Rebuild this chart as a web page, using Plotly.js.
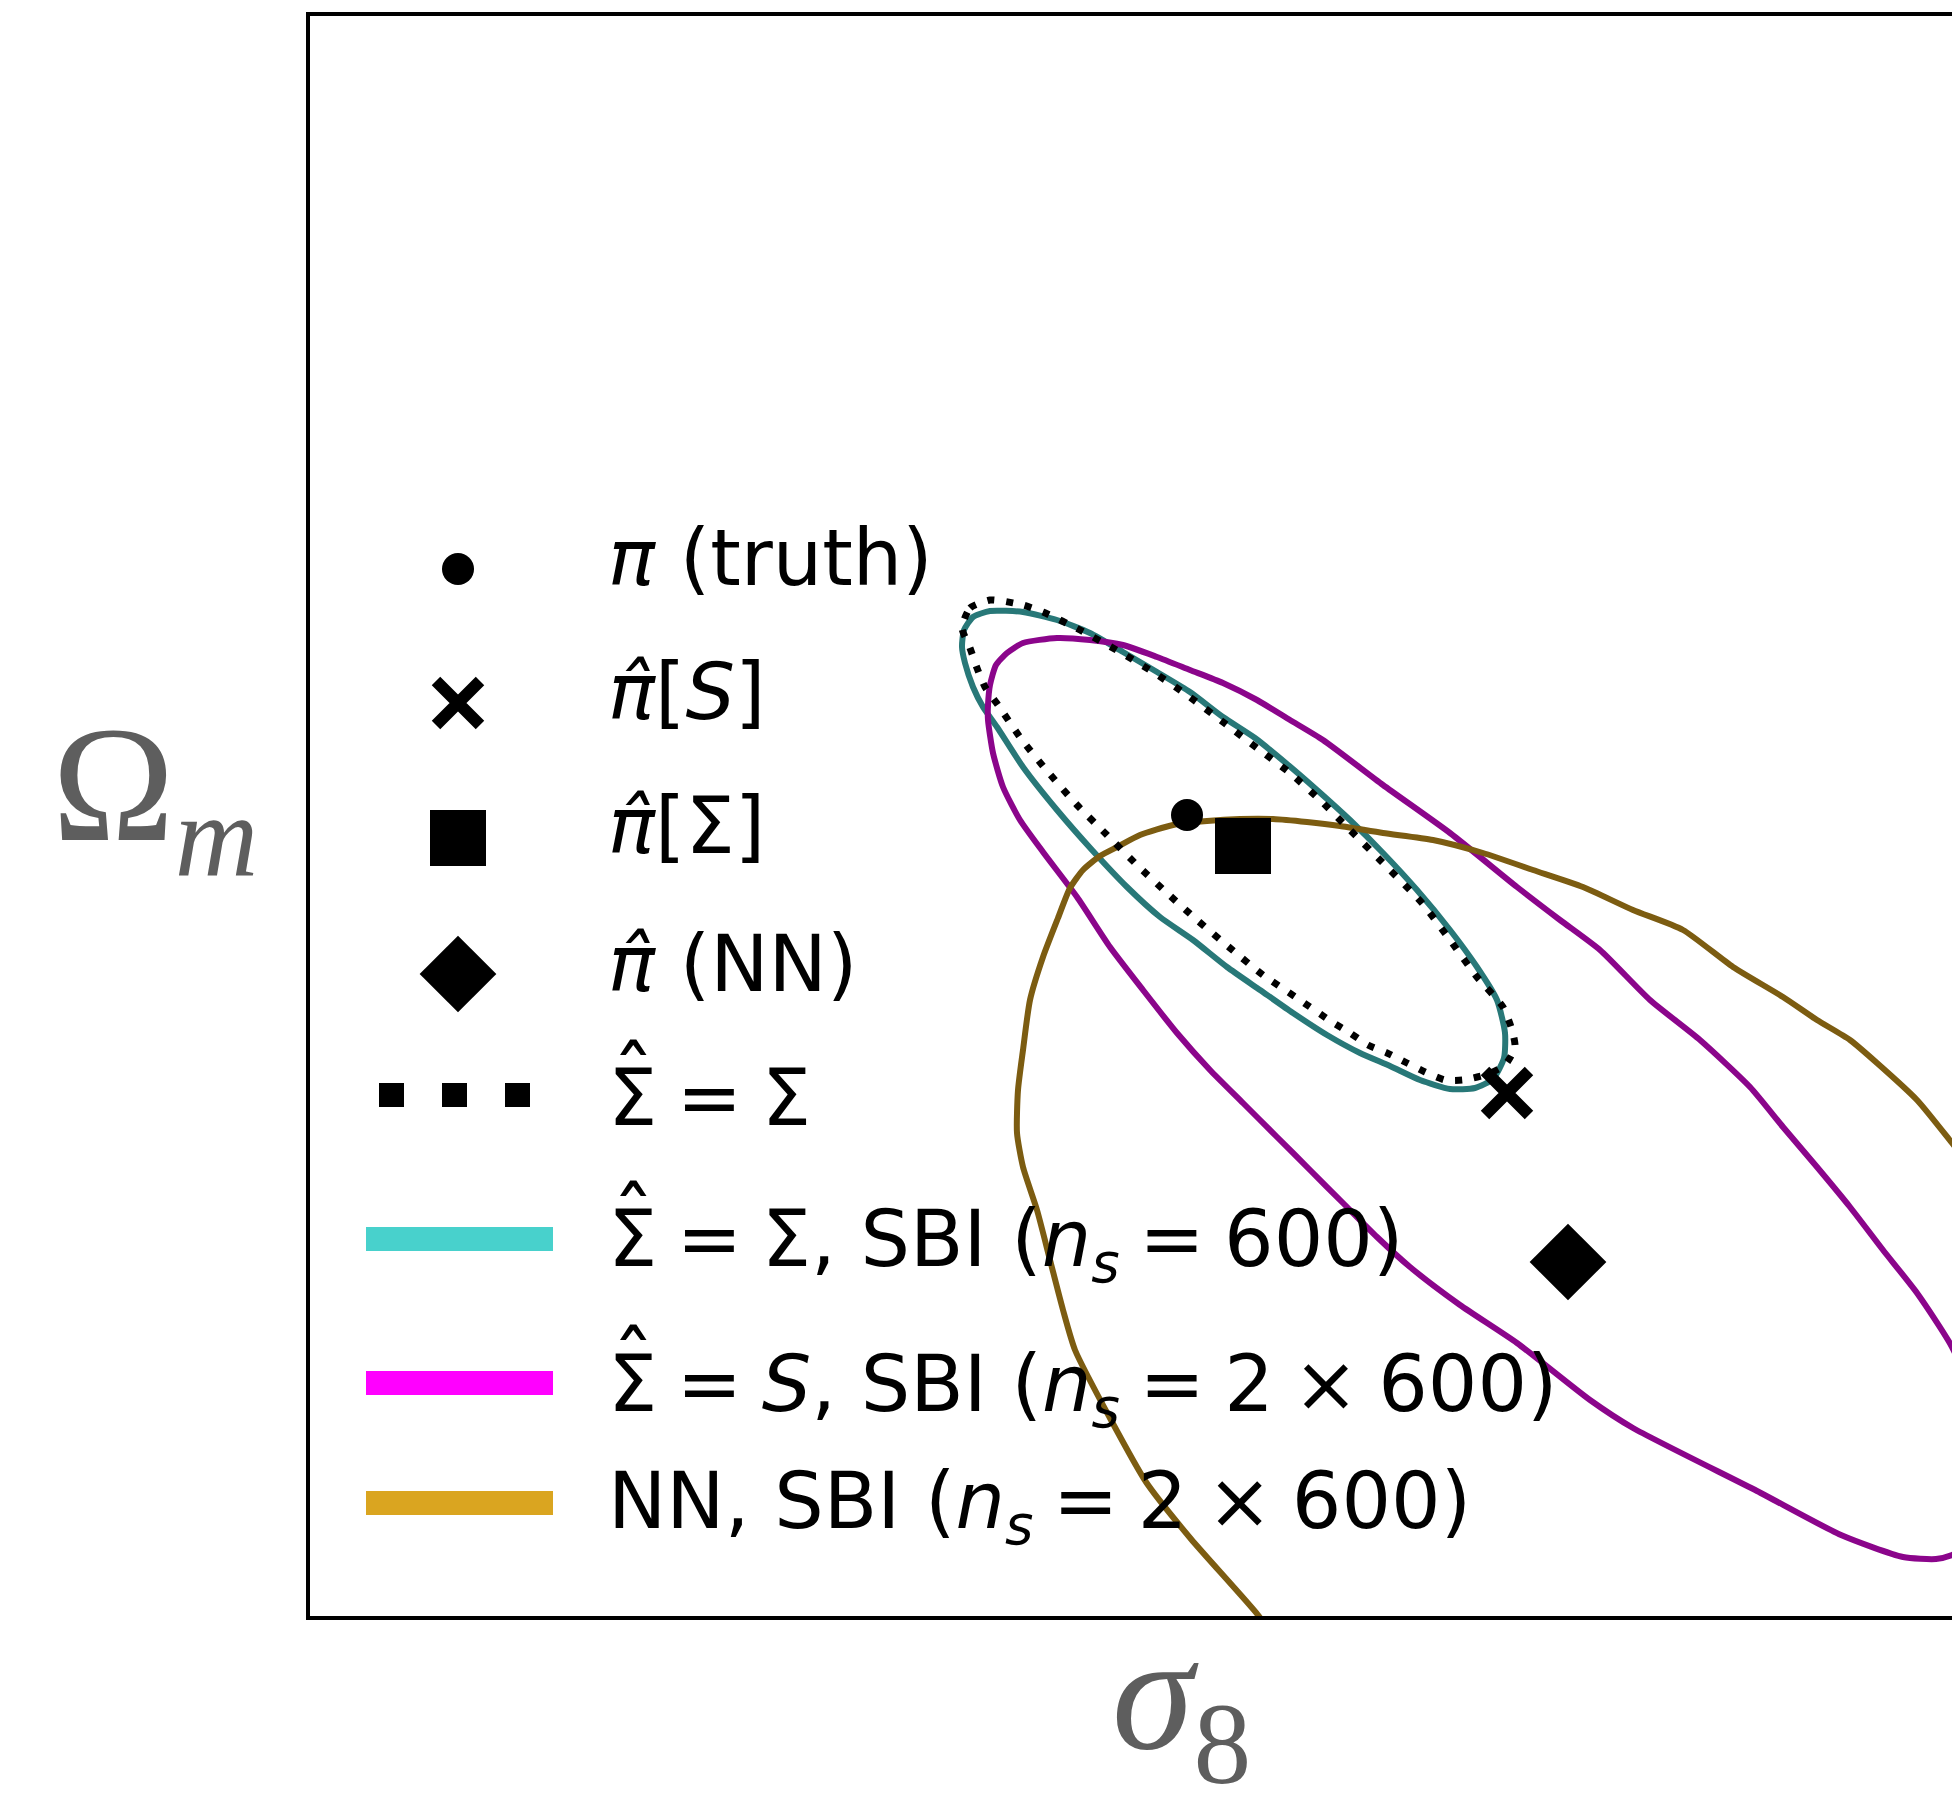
<!DOCTYPE html>
<html>
<head>
<meta charset="utf-8">
<script src="https://cdn.plot.ly/plotly-3.0.1.min.js"></script>
<style>
  html, body { margin: 0; padding: 0; background: #ffffff; overflow: hidden; }
  #chart { width: 2100px; height: 1796px; }
</style>
</head>
<body>
<div id="chart"></div>
<script>
// ---- Point estimates (sigma_8, Omega_m) ----
const pointNames   = ['truth', 'pi_hat_S', 'pi_hat_Sigma', 'pi_hat_NN'];
const pointSigma8  = [0.7754, 0.8394, 0.7866, 0.8516];
const pointOmegaM  = [0.2602, 0.2046, 0.2540, 0.1708];

// ---- Contour: Sigma_hat = Sigma (analytic) ----
const exactSigma8 = [0.7304, 0.7320, 0.7360, 0.7384, 0.7426, 0.7466, 0.7540, 0.7620, 0.7686, 0.7754,
                     0.7826, 0.7894, 0.7960, 0.8020, 0.8080, 0.8140, 0.8224, 0.8280, 0.8334, 0.8386,
                     0.8404, 0.8410, 0.8390, 0.8356, 0.8306, 0.8270, 0.8230, 0.8194, 0.8154, 0.8116,
                     0.8080, 0.8044, 0.7974, 0.7906, 0.7840, 0.7774, 0.7714, 0.7654, 0.7594, 0.7534,
                     0.7476, 0.7424, 0.7376, 0.7350, 0.7334, 0.7320, 0.7304];
const exactOmegaM = [0.2976, 0.3016, 0.3032, 0.3030, 0.3022, 0.3008, 0.2972, 0.2928, 0.2888, 0.2842,
                     0.2788, 0.2736, 0.2686, 0.2632, 0.2572, 0.2512, 0.2426, 0.2352, 0.2278, 0.2218,
                     0.2172, 0.2138, 0.2102, 0.2084, 0.2072, 0.2072, 0.2088, 0.2106, 0.2126, 0.2142,
                     0.2166, 0.2188, 0.2236, 0.2282, 0.2336, 0.2392, 0.2446, 0.2502, 0.2562, 0.2622,
                     0.2688, 0.2752, 0.2822, 0.2858, 0.2896, 0.2936, 0.2976];

// ---- Contour: Sigma_hat = Sigma, SBI (n_s = 600) ----
const sbiSigmaSigma8 = [0.7304, 0.7308, 0.7326, 0.7360, 0.7426, 0.7494, 0.7560, 0.7626, 0.7694, 0.7760,
                        0.7826, 0.7890, 0.7954, 0.8014, 0.8080, 0.8146, 0.8214, 0.8280, 0.8334, 0.8374,
                        0.8390, 0.8388, 0.8366, 0.8330, 0.8280, 0.8220, 0.8160, 0.8100, 0.8034, 0.7966,
                        0.7900, 0.7834, 0.7766, 0.7700, 0.7634, 0.7564, 0.7494, 0.7426, 0.7374, 0.7346,
                        0.7326, 0.7310, 0.7304];
const sbiSigmaOmegaM = [0.2938, 0.2972, 0.2998, 0.3010, 0.3008, 0.2992, 0.2966, 0.2928, 0.2888, 0.2848,
                        0.2798, 0.2756, 0.2704, 0.2652, 0.2592, 0.2526, 0.2452, 0.2372, 0.2298, 0.2232,
                        0.2166, 0.2116, 0.2074, 0.2056, 0.2054, 0.2072, 0.2100, 0.2126, 0.2162, 0.2206,
                        0.2252, 0.2298, 0.2352, 0.2398, 0.2458, 0.2532, 0.2612, 0.2698, 0.2778, 0.2818,
                        0.2858, 0.2906, 0.2938];

// ---- Contour: Sigma_hat = S, SBI (n_s = 2 x 600) ----
const sbiSSigma8 = [0.7356, 0.7360, 0.7372, 0.7394, 0.7426, 0.7494, 0.7560, 0.7626, 0.7694, 0.7760,
                    0.7826, 0.7894, 0.7960, 0.8026, 0.8146, 0.8280, 0.8414, 0.8500, 0.8580, 0.8680,
                    0.8780, 0.8880, 0.8946, 0.9014, 0.9080, 0.9146, 0.9214, 0.9284, 0.9344, 0.9370,
                    0.9340, 0.9284, 0.9252, 0.9186, 0.9062, 0.8894, 0.8646, 0.8560, 0.8414, 0.8300,
                    0.8200, 0.8134, 0.8066, 0.8000, 0.7934, 0.7866, 0.7800, 0.7734, 0.7666, 0.7600,
                    0.7534, 0.7466, 0.7420, 0.7386, 0.7366, 0.7356, 0.7356];
const sbiSOmegaM = [0.2822, 0.2862, 0.2902, 0.2926, 0.2946, 0.2956, 0.2952, 0.2942, 0.2918, 0.2892,
                    0.2866, 0.2832, 0.2792, 0.2752, 0.2662, 0.2566, 0.2458, 0.2392, 0.2332, 0.2232,
                    0.2152, 0.2058, 0.1978, 0.1898, 0.1818, 0.1732, 0.1646, 0.1538, 0.1392, 0.1252,
                    0.1152, 0.1122, 0.1114, 0.1118, 0.1162, 0.1250, 0.1376, 0.1432, 0.1546, 0.1622,
                    0.1698, 0.1758, 0.1826, 0.1892, 0.1958, 0.2026, 0.2092, 0.2166, 0.2252, 0.2338,
                    0.2438, 0.2528, 0.2592, 0.2658, 0.2726, 0.2792, 0.2822];

// ---- Contour: NN, SBI (n_s = 2 x 600) ----
const sbiNNSigma8 = [0.7930, 0.7896, 0.7762, 0.7672, 0.7602, 0.7530, 0.7506, 0.7480, 0.7454, 0.7426,
                     0.7414, 0.7416, 0.7426, 0.7440, 0.7466, 0.7496, 0.7520, 0.7546, 0.7580, 0.7614,
                     0.7660, 0.7726, 0.7794, 0.7860, 0.7926, 0.7994, 0.8060, 0.8146, 0.8246, 0.8346,
                     0.8446, 0.8546, 0.8646, 0.8746, 0.8846, 0.8946, 0.9014, 0.9080, 0.9134, 0.9214,
                     0.9284, 0.9350];
const sbiNNOmegaM = [0.0952, 0.1002, 0.1154, 0.1268, 0.1392, 0.1532, 0.1612, 0.1712, 0.1812, 0.1898,
                     0.1966, 0.2052, 0.2132, 0.2232, 0.2318, 0.2396, 0.2456, 0.2492, 0.2520, 0.2538,
                     0.2562, 0.2582, 0.2590, 0.2594, 0.2594, 0.2588, 0.2580, 0.2566, 0.2552, 0.2526,
                     0.2492, 0.2458, 0.2412, 0.2372, 0.2298, 0.2238, 0.2192, 0.2152, 0.2106, 0.2032,
                     0.1946, 0.1862];

// ---- Text ----
const MS = '\u2005';  // math spacing around relations and operators
const legendLabels = [
  '<i>π</i> (truth)',
  '<i>π\u0302</i>[<i>S</i>]',
  '<i>π\u0302</i>[Σ]',
  '<i>π\u0302</i> (NN)',
  'Σ' + MS + '=' + MS + 'Σ',
  'Σ' + MS + '=' + MS + 'Σ, SBI (<i>n</i><sub><i>s</i></sub>' + MS + '=' + MS + '600)',
  'Σ' + MS + '=' + MS + '<i>S</i>, SBI (<i>n</i><sub><i>s</i></sub>' + MS + '=' + MS + '2' + MS + '×' + MS + '600)',
  'NN, SBI (<i>n</i><sub><i>s</i></sub>' + MS + '=' + MS + '2' + MS + '×' + MS + '600)'
];
const hatGlyph = '\u02C6';
const xTitle = '<i>σ</i><sub>8</sub>';
const yTitle = 'Ω<sub><i>m</i></sub>';

// ---- Figure geometry ----
const FIG_W = 2100, FIG_H = 1796;
const M = { l: 310, r: 40, t: 16, b: 180 };
const PLOT_L = M.l, PLOT_R = FIG_W - M.r, PLOT_T = M.t, PLOT_B = FIG_H - M.b;
function paperX(px) { return (px - PLOT_L) / (PLOT_R - PLOT_L); }
function paperY(py) { return (PLOT_B - py) / (PLOT_B - PLOT_T); }

// Legend layout (figure pixels, overlay layer)
const KEY_X = 458;
const TEXT_X = 606;
const markerRowY = [569, 703, 838, 974];
const lineRowY = [1095, 1239, 1383, 1503];
const lineKeyX = [366, 553];
const dotKeyX = [379, 531];
const textCenterY = [558, 692, 826, 964, 1098, 1244, 1389, 1506];
const hatRows = [4, 5, 6];
const hatCenter = { x: 633, y: [1078, 1219, 1363] };

// Styles
const contourColors = { exact: '#000000', sbiSigma: '#287878', sbiS: '#8b058b', sbiNN: '#7c5c11' };
const keyColors = { sbiSigma: '#48d1cc', sbiS: '#ff00ff', sbiNN: '#daa520' };
const markerSymbols = ['circle', 'x-thin-open', 'square', 'diamond'];
const markerSizes = [32, 44, 56, 59];
const TEXT_FONT = { family: 'DejaVu Sans', size: 78, color: '#000000' };
const TITLE_FONT = { family: 'Liberation Serif', size: 165, color: '#5e5e5e' };

const traces = [];

function contour(xs, ys, color, dash, width) {
  return {
    x: xs, y: ys, type: 'scatter', mode: 'lines',
    line: { color: color, width: width, dash: dash, shape: 'spline', smoothing: 0.6 },
    hoverinfo: 'skip', showlegend: false
  };
}

traces.push(contour(sbiSigmaSigma8, sbiSigmaOmegaM, contourColors.sbiSigma, 'solid', 6));
traces.push(contour(sbiSSigma8, sbiSOmegaM, contourColors.sbiS, 'solid', 6));
traces.push(contour(sbiNNSigma8, sbiNNOmegaM, contourColors.sbiNN, 'solid', 6));
traces.push(contour(exactSigma8, exactOmegaM, contourColors.exact, '7px,12px', 7));

// point estimates
pointNames.forEach(function (name, i) {
  const isX = markerSymbols[i] === 'x-thin-open';
  traces.push({
    x: [pointSigma8[i]], y: [pointOmegaM[i]], type: 'scatter', mode: 'markers', name: name,
    marker: {
      symbol: markerSymbols[i], size: markerSizes[i], color: '#000000',
      line: { color: '#000000', width: isX ? 12 : 0 }
    },
    hoverinfo: 'skip', showlegend: false
  });
});

// ---- Legend keys on an overlay layer measured in figure pixels ----
markerSymbols.forEach(function (sym, i) {
  const isX = sym === 'x-thin-open';
  traces.push({
    x: [KEY_X], y: [markerRowY[i]], xaxis: 'x2', yaxis: 'y2', type: 'scatter', mode: 'markers',
    marker: { symbol: sym, size: markerSizes[i], color: '#000000',
              line: { color: '#000000', width: isX ? 12 : 0 } },
    hoverinfo: 'skip', showlegend: false, cliponaxis: false
  });
});
const keyLines = [
  { xs: dotKeyX, color: '#000000', dash: '25px,38px' },
  { xs: lineKeyX, color: keyColors.sbiSigma, dash: 'solid' },
  { xs: lineKeyX, color: keyColors.sbiS, dash: 'solid' },
  { xs: lineKeyX, color: keyColors.sbiNN, dash: 'solid' }
];
keyLines.forEach(function (k, i) {
  traces.push({
    x: k.xs, y: [lineRowY[i], lineRowY[i]], xaxis: 'x2', yaxis: 'y2', type: 'scatter', mode: 'lines',
    line: { color: k.color, width: 24, dash: k.dash },
    hoverinfo: 'skip', showlegend: false, cliponaxis: false
  });
});

const annotations = legendLabels.map(function (t, i) {
  return {
    text: t, x: TEXT_X, y: textCenterY[i], xref: 'x2', yref: 'y2',
    xanchor: 'left', yanchor: 'middle', showarrow: false, font: TEXT_FONT
  };
});
// circumflex accents over the Sigma estimators
hatRows.forEach(function (row, j) {
  annotations.push({
    text: hatGlyph, x: hatCenter.x, y: hatCenter.y[j], xref: 'x2', yref: 'y2',
    xanchor: 'center', yanchor: 'middle', showarrow: false,
    font: { family: 'DejaVu Sans', size: 85, color: '#000000' }
  });
});
// axis titles
annotations.push({
  text: yTitle, x: paperX(50), y: paperY(796), xref: 'paper', yref: 'paper',
  xanchor: 'left', yanchor: 'middle', showarrow: false, font: TITLE_FONT
});
annotations.push({
  text: xTitle, x: paperX(1110), y: paperY(1704), xref: 'paper', yref: 'paper',
  xanchor: 'left', yanchor: 'middle', showarrow: false, font: TITLE_FONT
});

const frameAxis = {
  showgrid: false, zeroline: false, showticklabels: false, ticks: '',
  showline: true, mirror: true, linecolor: '#000000', linewidth: 4, fixedrange: true
};

const layout = {
  width: FIG_W, height: FIG_H,
  margin: { l: M.l, r: M.r, t: M.t, b: M.b, pad: 0 },
  paper_bgcolor: '#ffffff', plot_bgcolor: '#ffffff',
  showlegend: false,
  xaxis: Object.assign({ range: [0.60, 0.95] }, frameAxis),
  yaxis: Object.assign({ range: [0.10, 0.42] }, frameAxis),
  xaxis2: { overlaying: 'x', range: [PLOT_L, PLOT_R], visible: false, fixedrange: true },
  yaxis2: { overlaying: 'y', range: [PLOT_B, PLOT_T], visible: false, fixedrange: true },
  annotations: annotations
};

Plotly.newPlot('chart', traces, layout, { staticPlot: true, displayModeBar: false });
</script>
</body>
</html>
